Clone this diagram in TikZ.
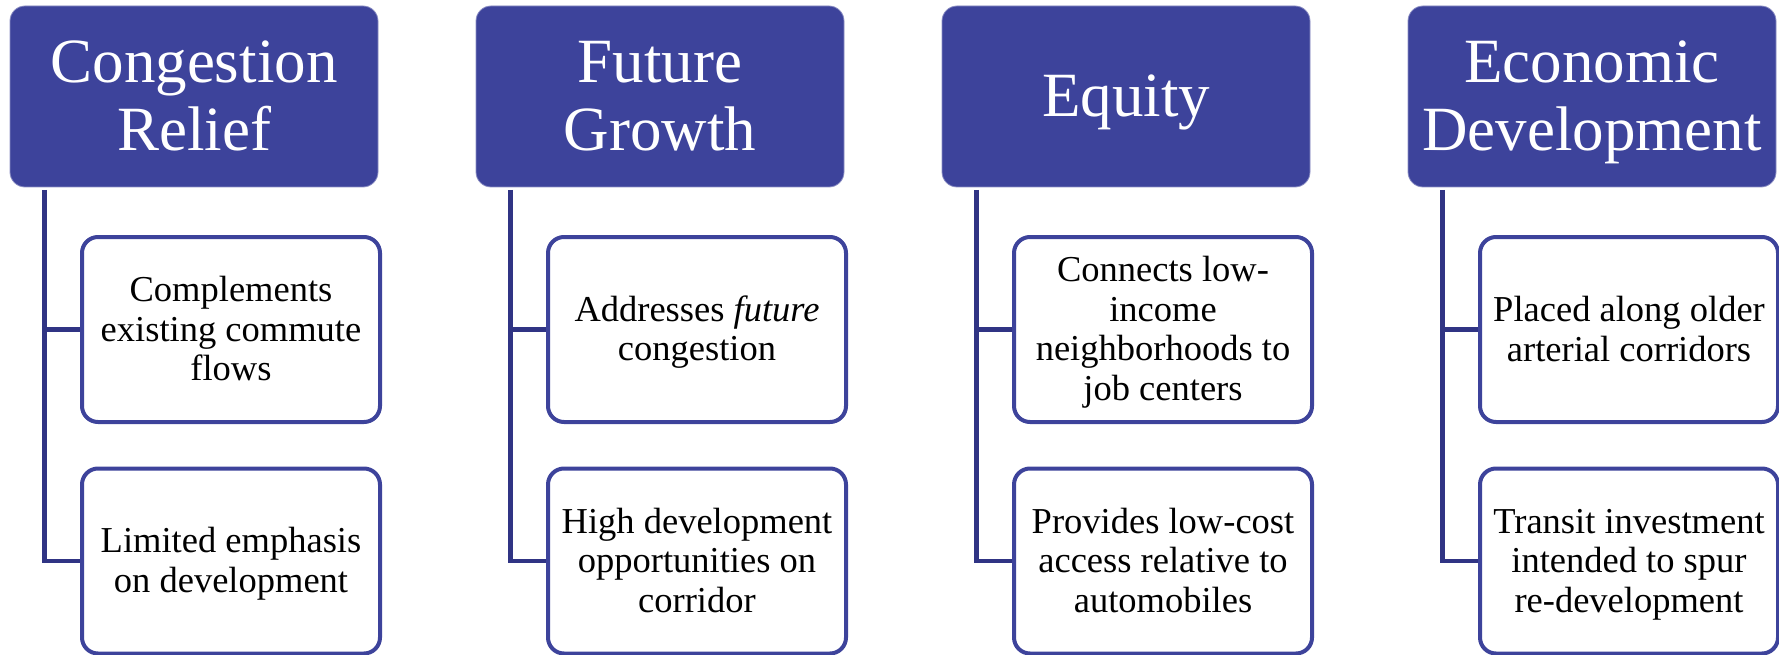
\documentclass[tikz,border=0pt]{standalone}
\usepackage{fontspec}
\setmainfont{Liberation Serif}
\definecolor{hdrblue}{RGB}{61,67,155}
\definecolor{linkblue}{RGB}{48,52,132}
% line strut: keeps every line the same height so text centres like a slide box
\newcommand\hs{\rule[-0.2em]{0pt}{1.05em}}
\begin{document}
\begin{tikzpicture}[x=1pt,y=-1pt,
  header/.style={rectangle, rounded corners=15pt, fill=hdrblue,
    draw=hdrblue!60!white, line width=0.8pt,
    minimum width=368pt, minimum height=181pt, inner sep=0pt,
    text=white, align=center, font=\fontsize{63}{68}\selectfont},
  item/.style={rectangle, rounded corners=16pt, fill=white,
    draw=hdrblue, line width=4pt,
    minimum width=298pt, minimum height=185pt, inner sep=0pt,
    align=center, font=\fontsize{36.5}{39.5}\selectfont},
  link/.style={draw=linkblue, line width=4.5pt, line join=miter}]
\useasboundingbox (0,0) rectangle (1779,655);

% column 1
\node[header] (h1) at (194,96.5) {\hs Congestion\\\hs Relief};
\node[item] (c11) at (231,329.5) {\hs Complements\\\hs existing commute\\\hs flows};
\node[item] (c12) at (231,561) {\hs Limited emphasis\\\hs on development};
\coordinate (t1) at (44.5,190);

% column 2
\node[header] (h2) at (660,96.5) {\hs Future\\\hs Growth};
\node[item] (c21) at (697,329.5) {\hs Addresses \textit{future}\\\hs congestion};
\node[item] (c22) at (697,561) {\hs High development\\\hs opportunities on\\\hs corridor};
\coordinate (t2) at (510.5,190);

% column 3
\node[header] (h3) at (1126,96.5) {\hs Equity};
\node[item] (c31) at (1163,329.5) {\hs Connects low-\\\hs income\\\hs neighborhoods to\\\hs job centers};
\node[item] (c32) at (1163,561) {\hs Provides low-cost\\\hs access relative to\\\hs automobiles};
\coordinate (t3) at (976.5,190);

% column 4
\node[header] (h4) at (1592,96.5) {\hs Economic\\\hs Development};
\node[item] (c41) at (1629,329.5) {\hs Placed along older\\\hs arterial corridors};
\node[item] (c42) at (1629,561) {\hs Transit investment\\\hs intended to spur\\\hs re-development};
\coordinate (t4) at (1442.5,190);

% trunks and branches
\foreach \i in {1,2,3,4}{
  \draw[link] (t\i) |- (c\i2.west);
  \draw[link] (t\i |- c\i1.west) -- (c\i1.west);
}
\end{tikzpicture}
\end{document}
